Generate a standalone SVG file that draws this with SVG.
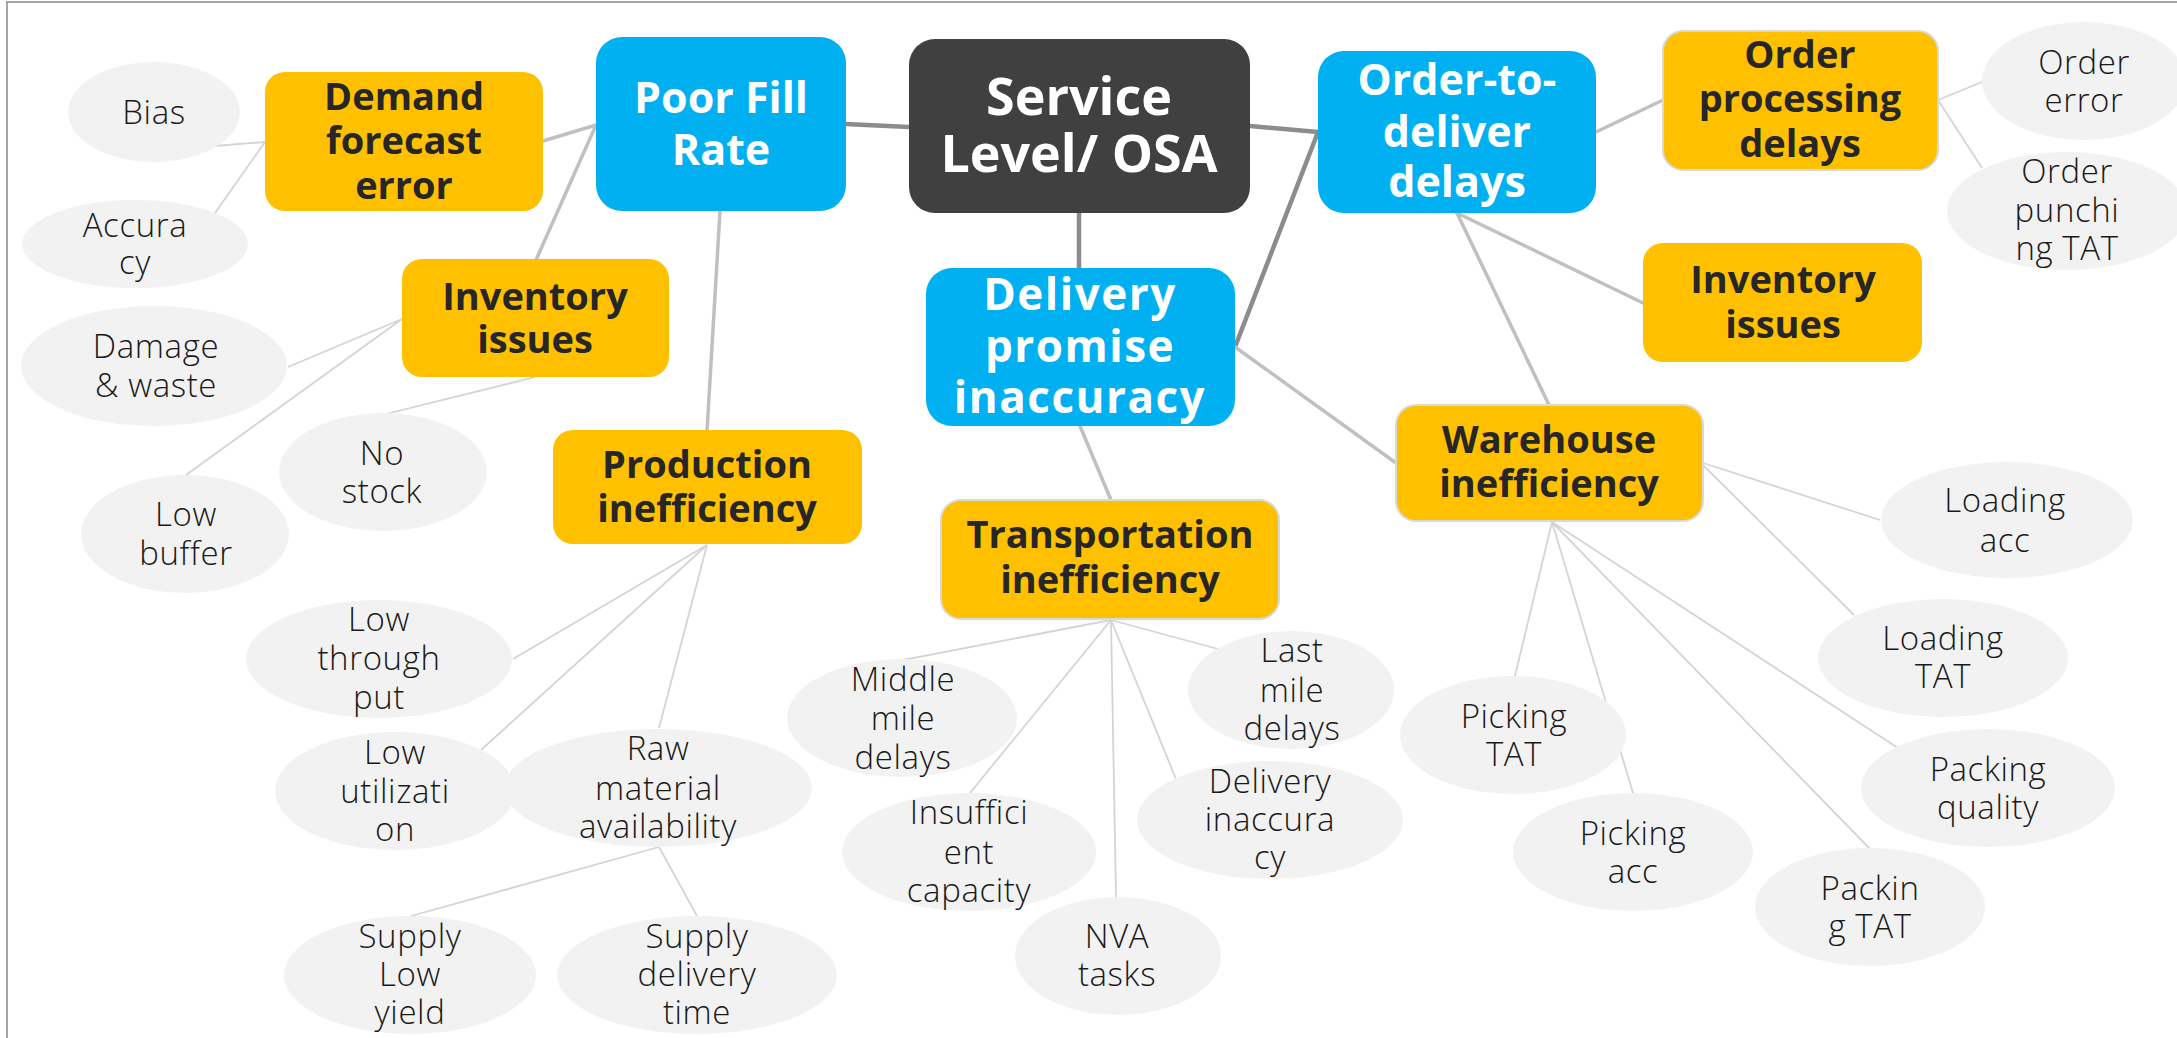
<svg xmlns="http://www.w3.org/2000/svg" width="2177" height="1038" viewBox="0 0 2177 1038">
<style>
.thick{stroke:#8c8c8c;stroke-width:4.5;fill:none;stroke-linecap:round}
.mid{stroke:#c0c0c0;stroke-width:3.5;fill:none;stroke-linecap:round}
.thin{stroke:#d4d4d4;stroke-width:1.8;fill:none}
.dark{fill:#404040}
.blue{fill:#00b0f0}
.orange{fill:#ffc000}
.bord{stroke:#d9d9d9;stroke-width:2}
.leaf{fill:#f2f2f2}
.tw{font-family:"Open Sans","Liberation Sans",sans-serif;font-weight:700;fill:#ffffff;text-anchor:middle}
.tb{font-family:"Open Sans","Liberation Sans",sans-serif;font-weight:700;font-size:38px;fill:#262626;text-anchor:middle}
.tl{font-family:"Open Sans","Liberation Sans",sans-serif;font-weight:300;font-size:33px;letter-spacing:0.6px;fill:#1a1a1a;text-anchor:middle}
</style>
<rect x="0" y="0" width="2177" height="1038" fill="#ffffff"/>
<polyline points="7,1038 7,2 2177,2" fill="none" stroke="#a6a6a6" stroke-width="2"/>
<g id="connectors">
<line class="thick" x1="845" y1="124" x2="909" y2="127"/>
<line class="thick" x1="1250" y1="126" x2="1318" y2="132"/>
<line class="thick" x1="1318" y1="132" x2="1235" y2="347"/>
<line class="thick" x1="1079" y1="213" x2="1079" y2="268"/>
<line class="mid" x1="543" y1="141" x2="596" y2="125"/>
<line class="mid" x1="536" y1="260" x2="596" y2="125"/>
<line class="mid" x1="720" y1="211" x2="707" y2="431"/>
<line class="mid" x1="1080" y1="426" x2="1111" y2="500"/>
<line class="mid" x1="1596" y1="132" x2="1663" y2="100"/>
<line class="mid" x1="1457" y1="213" x2="1643" y2="303"/>
<line class="mid" x1="1457" y1="213" x2="1549" y2="405"/>
<line class="mid" x1="1235" y1="347" x2="1396" y2="463"/>
<line class="thin" x1="214" y1="146" x2="265" y2="142"/>
<line class="thin" x1="215" y1="213" x2="265" y2="142"/>
<line class="thin" x1="288" y1="367" x2="402" y2="319"/>
<line class="thin" x1="186" y1="475" x2="402" y2="319"/>
<line class="thin" x1="382" y1="415" x2="535" y2="377"/>
<line class="thin" x1="707" y1="545" x2="513" y2="659"/>
<line class="thin" x1="707" y1="545" x2="481" y2="750"/>
<line class="thin" x1="707" y1="545" x2="659" y2="728"/>
<line class="thin" x1="659" y1="847" x2="411" y2="916"/>
<line class="thin" x1="659" y1="847" x2="697" y2="916"/>
<line class="thin" x1="1111" y1="620" x2="903" y2="660"/>
<line class="thin" x1="1111" y1="620" x2="970" y2="793"/>
<line class="thin" x1="1111" y1="620" x2="1116" y2="897"/>
<line class="thin" x1="1111" y1="620" x2="1176" y2="779"/>
<line class="thin" x1="1111" y1="620" x2="1218" y2="649"/>
<line class="thin" x1="1552" y1="522" x2="1515" y2="676"/>
<line class="thin" x1="1552" y1="522" x2="1633" y2="793"/>
<line class="thin" x1="1552" y1="522" x2="1870" y2="849"/>
<line class="thin" x1="1552" y1="522" x2="1898" y2="748"/>
<line class="thin" x1="1703" y1="463" x2="1880" y2="520"/>
<line class="thin" x1="1703" y1="465" x2="1854" y2="615"/>
<line class="thin" x1="1938" y1="100" x2="1982" y2="82"/>
<line class="thin" x1="1938" y1="100" x2="1982" y2="168"/>
</g>
<g id="service">
<rect class="dark" x="909" y="39" width="341" height="174" rx="26"/>
<text class="tw" font-size="52" font-weight="800" x="1079" y="115">Service</text>
<text class="tw" font-size="52" font-weight="800" x="1079" y="172">Level/ OSA</text>
</g>
<g id="poor-fill">
<rect class="blue" x="596" y="37" width="250" height="174" rx="26"/>
<text class="tw" font-size="43" x="721" y="113">Poor Fill</text>
<text class="tw" font-size="43" x="721" y="165">Rate</text>
</g>
<g id="order-to-deliver">
<rect class="blue" x="1318" y="51" width="278" height="162" rx="26"/>
<text class="tw" font-size="43" x="1457" y="95">Order-to-</text>
<text class="tw" font-size="43" x="1457" y="147">deliver</text>
<text class="tw" font-size="43" x="1457" y="197">delays</text>
</g>
<g id="delivery-promise">
<rect class="blue" x="926" y="268" width="309" height="158" rx="26"/>
<text class="tw" font-size="44" letter-spacing="1.5" x="1080" y="310">Delivery</text>
<text class="tw" font-size="44" letter-spacing="1.5" x="1080" y="362">promise</text>
<text class="tw" font-size="44" letter-spacing="1.5" x="1080" y="413">inaccuracy</text>
</g>
<g id="demand-forecast">
<rect class="orange" x="265" y="72" width="278" height="139" rx="20"/>
<text class="tb" x="404" y="110">Demand</text>
<text class="tb" x="404" y="154">forecast</text>
<text class="tb" x="404" y="199">error</text>
</g>
<g id="inventory-left">
<rect class="orange" x="402" y="259" width="267" height="118" rx="20"/>
<text class="tb" x="535" y="310">Inventory</text>
<text class="tb" x="535" y="353">issues</text>
</g>
<g id="production">
<rect class="orange" x="553" y="430" width="309" height="114" rx="20"/>
<text class="tb" x="707" y="478">Production</text>
<text class="tb" x="707" y="522">inefficiency</text>
</g>
<g id="transportation">
<rect class="orange bord" x="941" y="500" width="338" height="119" rx="20"/>
<text class="tb" x="1110" y="548">Transportation</text>
<text class="tb" x="1110" y="593">inefficiency</text>
</g>
<g id="order-processing">
<rect class="orange bord" x="1663" y="31" width="275" height="139" rx="20"/>
<text class="tb" x="1800" y="68">Order</text>
<text class="tb" x="1800" y="112">processing</text>
<text class="tb" x="1800" y="157">delays</text>
</g>
<g id="inventory-right">
<rect class="orange" x="1643" y="243" width="279" height="119" rx="20"/>
<text class="tb" x="1783" y="293">Inventory</text>
<text class="tb" x="1783" y="338">issues</text>
</g>
<g id="warehouse">
<rect class="orange bord" x="1396" y="405" width="307" height="116" rx="20"/>
<text class="tb" x="1549" y="453">Warehouse</text>
<text class="tb" x="1549" y="497">inefficiency</text>
</g>
<g id="bias"><ellipse class="leaf" cx="154" cy="112" rx="86" ry="50"/><text class="tl" x="154" y="124">Bias</text></g>
<g id="accuracy"><ellipse class="leaf" cx="135" cy="244" rx="113" ry="44"/><text class="tl" x="135" y="237">Accura</text><text class="tl" x="135" y="274">cy</text></g>
<g id="damage"><ellipse class="leaf" cx="154" cy="366" rx="133" ry="60"/><text class="tl" x="156" y="358">Damage</text><text class="tl" x="156" y="397">&amp; waste</text></g>
<g id="no-stock"><ellipse class="leaf" cx="383" cy="472" rx="104" ry="59"/><text class="tl" x="382" y="465">No</text><text class="tl" x="382" y="503">stock</text></g>
<g id="low-buffer"><ellipse class="leaf" cx="185" cy="534" rx="104" ry="59"/><text class="tl" x="186" y="526">Low</text><text class="tl" x="186" y="565">buffer</text></g>
<g id="low-throughput"><ellipse class="leaf" cx="379" cy="659" rx="133" ry="59"/><text class="tl" x="379" y="631">Low</text><text class="tl" x="379" y="670">through</text><text class="tl" x="379" y="709">put</text></g>
<g id="low-utilization"><ellipse class="leaf" cx="395" cy="791" rx="120" ry="59"/><text class="tl" x="395" y="764">Low</text><text class="tl" x="395" y="803">utilizati</text><text class="tl" x="395" y="841">on</text></g>
<g id="raw-material"><ellipse class="leaf" cx="658" cy="788" rx="154" ry="59"/><text class="tl" x="658" y="760">Raw</text><text class="tl" x="658" y="800">material</text><text class="tl" x="658" y="838">availability</text></g>
<g id="supply-low-yield"><ellipse class="leaf" cx="410" cy="975" rx="126" ry="59"/><text class="tl" x="410" y="948">Supply</text><text class="tl" x="410" y="986">Low</text><text class="tl" x="410" y="1024">yield</text></g>
<g id="supply-delivery"><ellipse class="leaf" cx="697" cy="975" rx="140" ry="59"/><text class="tl" x="697" y="948">Supply</text><text class="tl" x="697" y="986">delivery</text><text class="tl" x="697" y="1024">time</text></g>
<g id="middle-mile"><ellipse class="leaf" cx="902" cy="718" rx="115" ry="59"/><text class="tl" x="903" y="691">Middle</text><text class="tl" x="903" y="730">mile</text><text class="tl" x="903" y="769">delays</text></g>
<g id="insufficient"><ellipse class="leaf" cx="969" cy="852" rx="127" ry="59"/><text class="tl" x="969" y="824">Insuffici</text><text class="tl" x="969" y="864">ent</text><text class="tl" x="969" y="902">capacity</text></g>
<g id="nva"><ellipse class="leaf" cx="1118" cy="956" rx="103" ry="59"/><text class="tl" x="1117" y="948">NVA</text><text class="tl" x="1117" y="986">tasks</text></g>
<g id="last-mile"><ellipse class="leaf" cx="1291" cy="690" rx="103" ry="59"/><text class="tl" x="1292" y="662">Last</text><text class="tl" x="1292" y="702">mile</text><text class="tl" x="1292" y="740">delays</text></g>
<g id="delivery-inaccuracy"><ellipse class="leaf" cx="1270" cy="820" rx="133" ry="59"/><text class="tl" x="1270" y="793">Delivery</text><text class="tl" x="1270" y="831">inaccura</text><text class="tl" x="1270" y="869">cy</text></g>
<g id="picking-tat"><ellipse class="leaf" cx="1513" cy="735" rx="113" ry="59"/><text class="tl" x="1514" y="728">Picking</text><text class="tl" x="1514" y="766">TAT</text></g>
<g id="picking-acc"><ellipse class="leaf" cx="1633" cy="852" rx="120" ry="59"/><text class="tl" x="1633" y="845">Picking</text><text class="tl" x="1633" y="883">acc</text></g>
<g id="packing-tat"><ellipse class="leaf" cx="1870" cy="907" rx="115" ry="59"/><text class="tl" x="1870" y="900">Packin</text><text class="tl" x="1870" y="938">g TAT</text></g>
<g id="packing-quality"><ellipse class="leaf" cx="1988" cy="788" rx="127" ry="59"/><text class="tl" x="1988" y="781">Packing</text><text class="tl" x="1988" y="819">quality</text></g>
<g id="loading-tat"><ellipse class="leaf" cx="1943" cy="658" rx="125" ry="59"/><text class="tl" x="1943" y="650">Loading</text><text class="tl" x="1943" y="688">TAT</text></g>
<g id="loading-acc"><ellipse class="leaf" cx="2007" cy="520" rx="126" ry="58"/><text class="tl" x="2005" y="512">Loading</text><text class="tl" x="2005" y="552">acc</text></g>
<g id="order-error"><ellipse class="leaf" cx="2084" cy="81" rx="102" ry="59"/><text class="tl" x="2084" y="74">Order</text><text class="tl" x="2084" y="112">error</text></g>
<g id="order-punching"><ellipse class="leaf" cx="2067" cy="211" rx="120" ry="59"/><text class="tl" x="2067" y="183">Order</text><text class="tl" x="2067" y="222">punchi</text><text class="tl" x="2067" y="260">ng TAT</text></g>
</svg>
